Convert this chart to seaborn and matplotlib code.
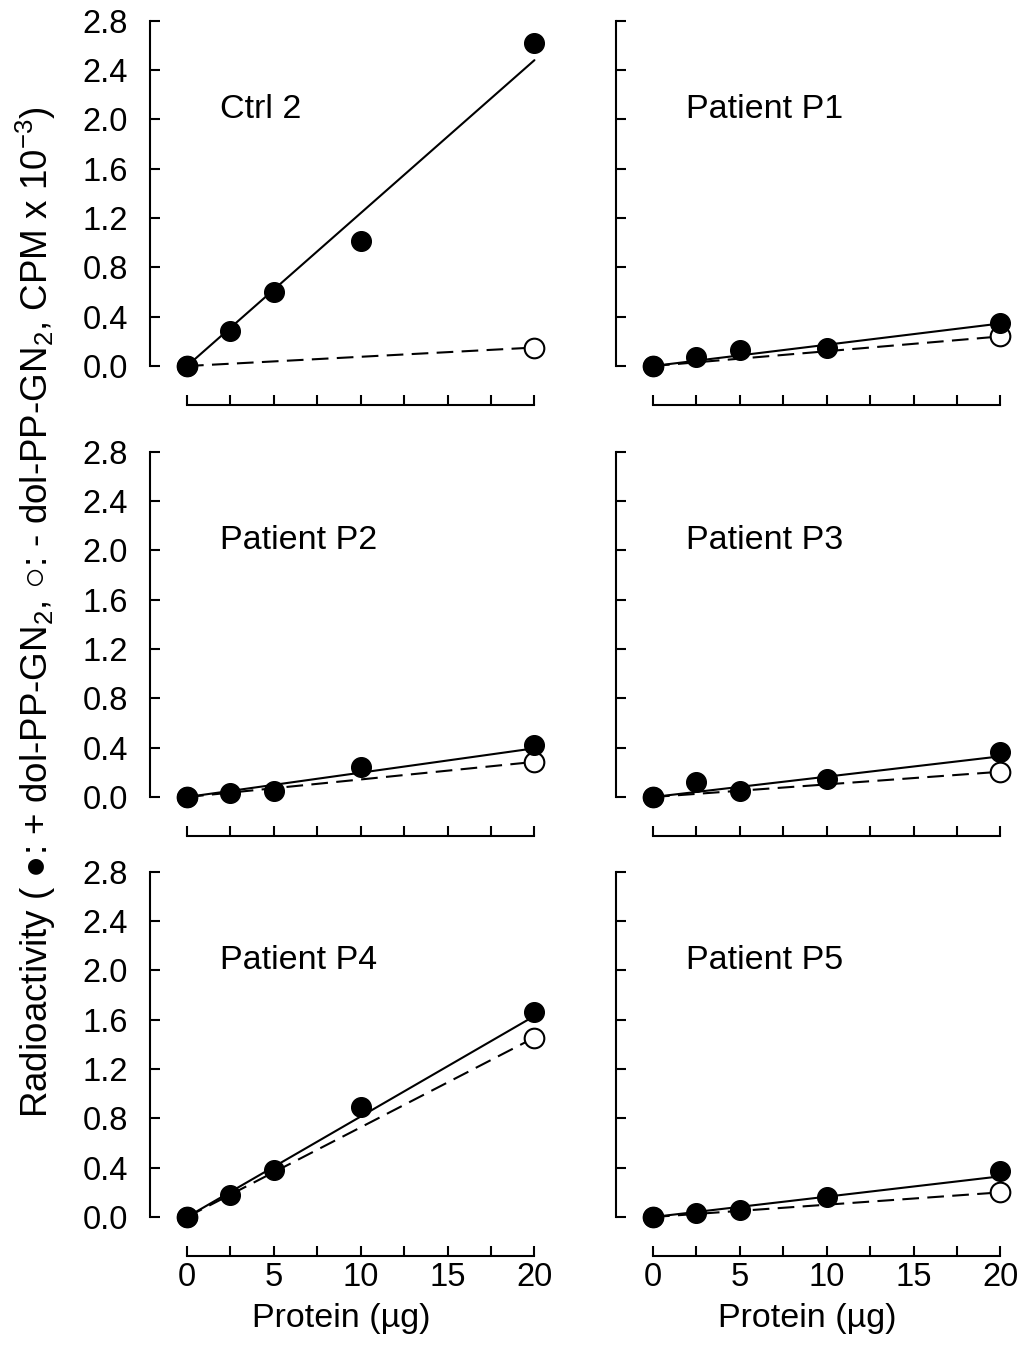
import numpy as np
import pandas as pd
import matplotlib.pyplot as plt
import seaborn as sns

# protein amount per assay (ug)
protein = [0, 2.5, 5, 10, 20]
protein_open = [0, 20]

panels = ["Ctrl 2", "Patient P1", "Patient P2", "Patient P3", "Patient P4", "Patient P5"]

# + dol-PP-GN2 (filled circles), CPM x 10^-3
ctrl2_plus = [0.0, 0.28, 0.60, 1.01, 2.62]
p1_plus = [0.0, 0.07, 0.13, 0.15, 0.35]
p2_plus = [0.0, 0.035, 0.05, 0.24, 0.42]
p3_plus = [0.0, 0.12, 0.05, 0.15, 0.365]
p4_plus = [0.0, 0.175, 0.38, 0.895, 1.66]
p5_plus = [0.0, 0.03, 0.055, 0.16, 0.37]

# - dol-PP-GN2 (open circles), only measured at 0 and 20 ug
ctrl2_minus = [0.0, 0.15]
p1_minus = [0.0, 0.24]
p2_minus = [0.0, 0.285]
p3_minus = [0.0, 0.205]
p4_minus = [0.0, 1.455]
p5_minus = [0.0, 0.20]

# fitted line (solid), value at 0 and 20 ug
ctrl2_fit = [0.0, 2.48]
p1_fit = [0.0, 0.345]
p2_fit = [0.0, 0.395]
p3_fit = [0.0, 0.33]
p4_fit = [0.0, 1.63]
p5_fit = [0.0, 0.33]

plus_all = [ctrl2_plus, p1_plus, p2_plus, p3_plus, p4_plus, p5_plus]
minus_all = [ctrl2_minus, p1_minus, p2_minus, p3_minus, p4_minus, p5_minus]
fit_all = [ctrl2_fit, p1_fit, p2_fit, p3_fit, p4_fit, p5_fit]

sns.set_style("ticks")
plt.rcParams["font.family"] = ["Liberation Sans", "DejaVu Sans"]
plt.rcParams["mathtext.fontset"] = "custom"
plt.rcParams["mathtext.rm"] = "Liberation Sans"
plt.rcParams["mathtext.it"] = "Liberation Sans:italic"
for key in ("text.color", "axes.labelcolor", "xtick.color", "ytick.color", "axes.edgecolor"):
    plt.rcParams[key] = "black"

W, H = 1021, 1349
fig = plt.figure(figsize=(W / 100, H / 100), dpi=100)

# axes placement in pixels: left spine x, bottom spine y
col_left = [150, 616]
row_bottom = [405, 836, 1256]
ax_w = 396.6
ax_h = 384.3

for i, name in enumerate(panels):
    r, c = divmod(i, 2)
    ax = fig.add_axes([
        col_left[c] / W,
        (H - row_bottom[r]) / H,
        ax_w / W,
        ax_h / H,
    ])

    fit_df = pd.DataFrame({"x": protein_open, "y": fit_all[i]})
    minus_df = pd.DataFrame({"x": protein_open, "y": minus_all[i]})
    plus_df = pd.DataFrame({"x": protein, "y": plus_all[i]})

    sns.lineplot(data=fit_df, x="x", y="y", ax=ax, color="black", lw=1.5)
    sns.lineplot(data=minus_df, x="x", y="y", ax=ax, color="black", lw=1.5,
                 dashes=False, linestyle=(0, (8, 4)))
    sns.scatterplot(data=minus_df, x="x", y="y", ax=ax, s=200, color="white",
                    edgecolor="black", linewidth=1.5, zorder=3, clip_on=False)
    sns.scatterplot(data=plus_df, x="x", y="y", ax=ax, s=200, color="black",
                    edgecolor="black", linewidth=1, zorder=4, clip_on=False)

    ax.set_xlim(-2.13, 20.7)
    ax.set_ylim(-0.316, 2.8)
    ax.spines["left"].set_bounds(0, 2.8)
    ax.spines["bottom"].set_bounds(0, 20)
    ax.spines["top"].set_visible(False)
    ax.spines["right"].set_visible(False)
    for sp in ("left", "bottom"):
        ax.spines[sp].set_linewidth(1.5)

    ax.set_yticks(np.arange(0, 2.81, 0.4))
    ax.set_xticks([0, 5, 10, 15, 20])
    ax.set_xticks([2.5, 7.5, 12.5, 17.5], minor=True)
    ax.tick_params(axis="both", which="both", direction="in", length=7.5, width=1.5,
                   labelsize=23.5, colors="black")
    ax.tick_params(axis="y", pad=16)
    ax.tick_params(axis="x", pad=4)

    if c == 0:
        ax.set_yticklabels([f"{v:.1f}" for v in np.arange(0, 2.81, 0.4)])
    else:
        ax.set_yticklabels([])

    ax.set_ylabel("")
    if r == 2:
        ax.set_xticklabels(["0", "5", "10", "15", "20"])
        ax.set_xlabel("Protein (µg)", fontsize=24.5, va="top")
        ax.xaxis.set_label_coords(0.482, -0.122)
    else:
        ax.set_xticklabels([])
        ax.set_xlabel("")

    ax.text(1.9, 2.08, name, fontsize=24.5, va="center", ha="left")

fig.text(36 / W, (H - 612) / H,
         "Radioactivity ( ●: + dol-PP-GN$_\\mathregular{2}$, ○: - dol-PP-GN$_\\mathregular{2}$, "
         "CPM x 10$^\\mathregular{-3}$)",
         rotation=90, fontsize=26.5, va="center", ha="center")

fig.savefig("out.png", dpi=100)
